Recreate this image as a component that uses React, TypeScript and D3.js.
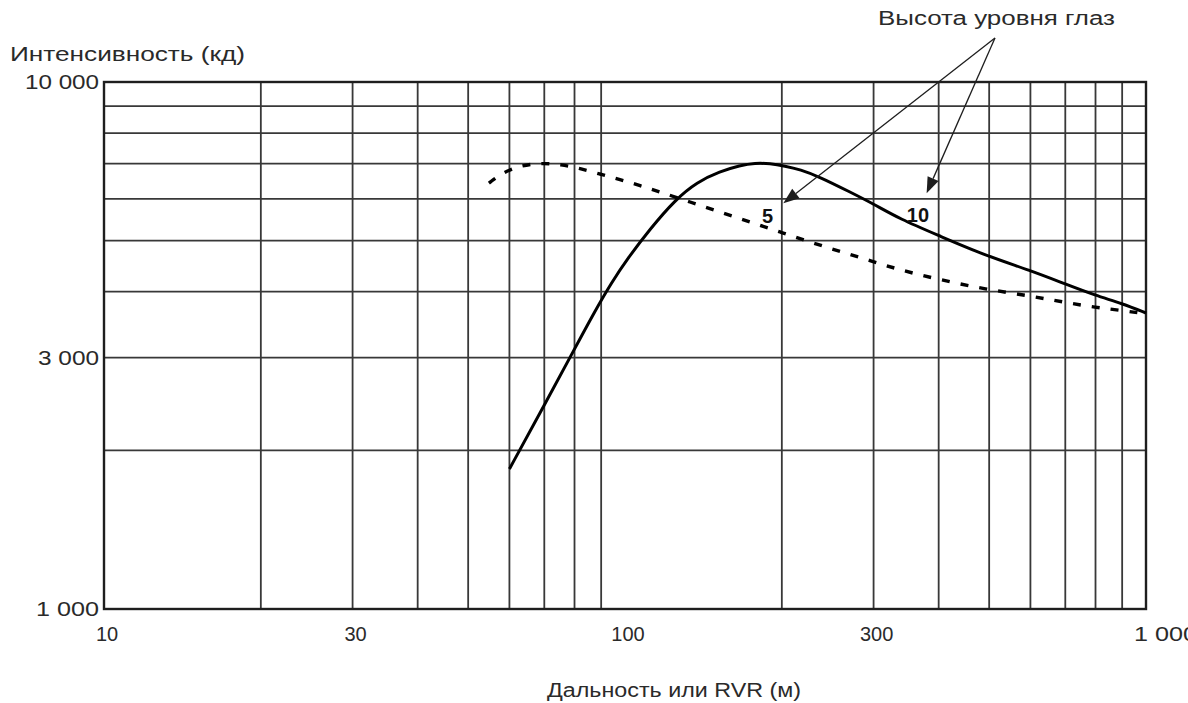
import React from "react";
import * as d3 from "d3";

// dataset (range in m, intensity in cd)
const solidX = [60, 70.2, 80.2, 87.6, 94.4, 101.3, 111.7, 124.7, 137.5, 152.2, 166.3, 177.6, 189.8, 202.8, 216.7, 236.8, 270.3, 300, 337, 400, 489, 600, 700, 800, 900, 1000];
const solidY = [1844, 2449, 3128, 3678, 4174, 4634, 5261, 5972, 6460, 6765, 6944, 7020, 7005, 6928, 6823, 6602, 6184, 5869, 5496, 5114, 4697, 4389, 4137, 3935, 3800, 3645];

const dashX = [54.8, 58.3, 63.2, 69, 75.4, 81.9, 89.5, 97.8, 106.9, 116.8, 133.3, 152.2, 173.8, 198.4, 226.5, 258.6, 295.3, 337, 400, 489, 600, 700, 800, 900, 1000];
const dashY = [6431, 6735, 6944, 7020, 6975, 6854, 6690, 6531, 6362, 6184, 5920, 5666, 5425, 5193, 4971, 4768, 4584, 4398, 4220, 4048, 3926, 3817, 3734, 3686, 3630];

const xGrid = [20, 30, 40, 50, 60, 70, 80, 90, 200, 300, 400, 500, 600, 700, 800, 900];
const yGrid = [2000, 3000, 4000, 5000, 6000, 7000, 8000, 9000];

const xTicks = [10, 30, 100, 300, 1000];
const xTickLabels = ["10", "30", "100", "300", "1 000"];
const yTicks = [10000, 3000, 1000];
const yTickLabels = ["10 000", "3 000", "1 000"];
const yTickLen = [74, 61, 63];

// annotation: label origin, arrow tips and curve labels, in data units
const noteFrom: [number, number] = [513, 12120];
const noteTips: [number, number][] = [[201.3, 5886], [379.3, 6150]];
const curveLabels = [
  { text: "5", at: [187.7, 5580] },
  { text: "10", at: [365, 5590] },
];

const W = 1188;
const H = 703;
const font = "'Liberation Sans', Arial, sans-serif";
const ink = "#1e1e1e";

export default function App() {
  const x = d3.scaleLog().domain([10, 1000]).range([104, 1146]);
  const y = d3.scaleLog().domain([1000, 10000]).range([609, 82]);

  // hand-read points are a bit noisy, a B-spline evens them out
  const line = d3
    .line<[number, number]>()
    .x((d) => x(d[0]))
    .y((d) => y(d[1]))
    .curve(d3.curveBasis);

  const solid = solidX.map((v, i) => [v, solidY[i]] as [number, number]);
  const dashed = dashX.map((v, i) => [v, dashY[i]] as [number, number]);

  const ox = x(noteFrom[0]);
  const oy = y(noteFrom[1]);

  const arrows = noteTips.map((t, i) => {
    const tx = x(t[0]);
    const ty = y(t[1]);
    const ang = Math.atan2(ty - oy, tx - ox);
    const len = 16;
    const half = 6;
    const bx = tx - len * Math.cos(ang);
    const by = ty - len * Math.sin(ang);
    const px = -Math.sin(ang) * half;
    const py = Math.cos(ang) * half;
    return (
      <g key={i}>
        <line x1={ox} y1={oy} x2={bx} y2={by} stroke={ink} strokeWidth={1.3} />
        <polygon
          points={`${tx},${ty} ${bx + px},${by + py} ${bx - px},${by - py}`}
          fill={ink}
        />
      </g>
    );
  });

  return (
    <svg
      width={W}
      height={H}
      style={{ position: "absolute", left: 0, top: 0, background: "#fff" }}
      fontFamily={font}
    >
      <rect width={W} height={H} fill="#fff" />
      {/* grid */}
      <g stroke="#383838" strokeWidth={1.8}>
        {xGrid.map((v) => (
          <line key={"gx" + v} x1={x(v)} x2={x(v)} y1={y(10000)} y2={y(1000)} />
        ))}
        {yGrid.map((v) => (
          <line key={"gy" + v} x1={x(10)} x2={x(1000)} y1={y(v)} y2={y(v)} />
        ))}
      </g>
      <rect
        x={x(10)}
        y={y(10000)}
        width={x(1000) - x(10)}
        height={y(1000) - y(10000)}
        fill="none"
        stroke={ink}
        strokeWidth={2.4}
      />

      {/* curves */}
      <path d={line(dashed) || ""} fill="none" stroke="#000" strokeWidth={3.4} strokeDasharray="8 11" />
      <path d={line(solid) || ""} fill="none" stroke="#000" strokeWidth={3} />

      {/* y ticks */}
      {yTicks.map((v, i) => (
        <text
          key={"yt" + v}
          x={99}
          y={y(v) + 7}
          textAnchor="end"
          fontSize={20}
          fill="#2a2a2a"
          textLength={yTickLen[i]}
          lengthAdjust="spacingAndGlyphs"
        >
          {yTickLabels[i]}
        </text>
      ))}

      {/* x ticks */}
      {xTicks.map((v, i) =>
        i === xTicks.length - 1 ? (
          <text key={"xt" + v} x={x(v) - 12} y={641} fontSize={20} fill="#2a2a2a" textLength={63} lengthAdjust="spacingAndGlyphs">
            {xTickLabels[i]}
          </text>
        ) : (
          <text key={"xt" + v} x={x(v) + 3} y={641} textAnchor="middle" fontSize={20} fill="#2a2a2a">
            {xTickLabels[i]}
          </text>
        )
      )}

      {/* titles */}
      <text x={10} y={61} fontSize={20} fill="#2a2a2a" textLength={235} lengthAdjust="spacingAndGlyphs">
        Интенсивность (кд)
      </text>
      <text x={547} y={697} fontSize={20} fill="#2a2a2a" textLength={254} lengthAdjust="spacingAndGlyphs">
        Дальность или RVR (м)
      </text>
      <text x={878} y={25} fontSize={20} fill="#2a2a2a" textLength={237} lengthAdjust="spacingAndGlyphs">
        Высота уровня глаз
      </text>

      {/* annotation arrows */}
      {arrows}
      {curveLabels.map((l) => (
        <text
          key={l.text}
          x={x(l.at[0])}
          y={y(l.at[1]) + 7}
          textAnchor="middle"
          fontSize={20}
          fontWeight="bold"
          fill="#111"
        >
          {l.text}
        </text>
      ))}
    </svg>
  );
}
